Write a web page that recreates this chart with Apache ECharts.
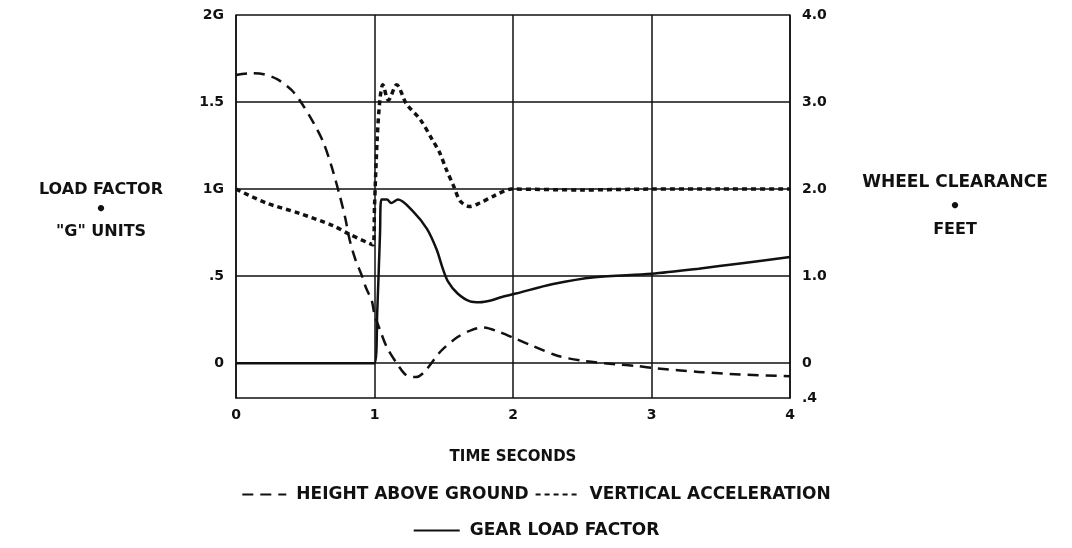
<!DOCTYPE html>
<html>
<head>
<meta charset="utf-8">
<script src="https://cdn.jsdelivr.net/npm/echarts@6/dist/echarts.min.js"></script>
<style>
html,body{margin:0;padding:0;background:#fff;}
#c{width:1072px;height:548px;}
</style>
</head>
<body>
<div id="c"></div>
<script>
// ---- data ----
var xTicks = [0, 1, 2, 3, 4];
var leftGridValues = [0, 0.5, 1, 1.5, 2];
var leftLabels = {"0": "0", "0.5": ".5", "1": "1G", "1.5": "1.5", "2": "2G"};
var rightLabels = {"-0.4": ".4", "0": "0", "1": "1.0", "2": "2.0", "3": "3.0", "4": "4.0"};

// Height above ground (feet, right axis)
var heightT = [0, 0.1, 0.2, 0.3, 0.4, 0.46, 0.56, 0.63, 0.69, 0.75, 0.79, 0.82, 0.86, 0.91, 0.94, 0.98, 1.0, 1.04, 1.09, 1.16, 1.23, 1.3, 1.36, 1.48, 1.6, 1.7, 1.78, 1.9, 2.02, 2.14, 2.32, 2.5, 2.74, 2.89, 3.04, 3.34, 3.64, 4.0];
var heightFt = [3.31, 3.33, 3.32, 3.26, 3.14, 3.02, 2.76, 2.54, 2.26, 1.92, 1.66, 1.42, 1.2, 1.0, 0.86, 0.72, 0.56, 0.38, 0.18, 0.0, -0.14, -0.16, -0.1, 0.14, 0.3, 0.38, 0.41, 0.36, 0.28, 0.2, 0.086, 0.028, -0.012, -0.032, -0.06, -0.1, -0.13, -0.15];

// Vertical acceleration (G, left axis)
var accelT = [0, 0.22, 0.46, 0.70, 0.82, 0.99, 1.0, 1.02, 1.04, 1.06, 1.10, 1.16, 1.23, 1.33, 1.42, 1.47, 1.52, 1.57, 1.62, 1.69, 1.76, 1.86, 1.99, 2.5, 3.0, 3.5, 4.0];
var accelG = [1.0, 0.92, 0.86, 0.79, 0.74, 0.68, 0.9, 1.3, 1.52, 1.6, 1.51, 1.6, 1.49, 1.40, 1.28, 1.21, 1.11, 1.02, 0.93, 0.90, 0.92, 0.96, 1.0, 0.995, 1.0, 1.0, 1.0];

// Gear load factor (G, left axis)
var gearT = [0, 0.5, 1.0, 1.02, 1.04, 1.05, 1.09, 1.12, 1.17, 1.28, 1.38, 1.45, 1.49, 1.53, 1.6, 1.69, 1.76, 1.84, 1.92, 2.02, 2.29, 2.59, 3.0, 3.34, 3.64, 4.0];
var gearG = [0, 0, 0, 0.3, 0.75, 0.94, 0.94, 0.92, 0.94, 0.87, 0.77, 0.65, 0.55, 0.47, 0.40, 0.355, 0.35, 0.36, 0.38, 0.40, 0.455, 0.494, 0.514, 0.543, 0.573, 0.61];

function zip(a, b) { return a.map(function (v, i) { return [v, b[i]]; }); }
function key(v) { return String(Math.round(v * 10) / 10); }

var FONT = 'DejaVu Sans';
var INK = '#111';

var chart = echarts.init(document.getElementById('c'));
chart.setOption({
  animation: false,
  backgroundColor: '#fff',
  grid: { left: 236, right: 282, top: 15, bottom: 150, containLabel: false },
  xAxis: {
    type: 'value', min: 0, max: 4, interval: 1,
    name: 'TIME SECONDS', nameLocation: 'middle', nameGap: 52,
    nameTextStyle: { color: INK, fontFamily: FONT, fontWeight: 'bold', fontSize: 15 },
    axisLine: { show: true, onZero: false, lineStyle: { color: INK, width: 1.5 } },
    axisTick: { show: false },
    axisLabel: { color: INK, fontFamily: FONT, fontWeight: 'bold', fontSize: 14, margin: 10,
      formatter: function (v) { return xTicks.indexOf(v) >= 0 ? String(v) : ''; } },
    splitLine: { show: true, lineStyle: { color: INK, width: 1.5 } }
  },
  yAxis: [
    {
      type: 'value', min: -0.2, max: 2, interval: 0.1, position: 'left',
      axisLine: { show: true, lineStyle: { color: INK, width: 1.5 } },
      axisTick: { show: false },
      splitLine: { show: false },
      axisLabel: { color: INK, fontFamily: FONT, fontWeight: 'bold', fontSize: 14, margin: 12, hideOverlap: false,
        formatter: function (v) { var k = key(v); return leftLabels.hasOwnProperty(k) ? leftLabels[k] : ''; } }
    },
    {
      type: 'value', min: -0.4, max: 4, interval: 0.2, position: 'right',
      axisLine: { show: true, lineStyle: { color: INK, width: 1.5 } },
      axisTick: { show: false },
      splitLine: { show: false },
      axisLabel: { color: INK, fontFamily: FONT, fontWeight: 'bold', fontSize: 14, margin: 12, hideOverlap: false,
        formatter: function (v) { var k = key(v); return rightLabels.hasOwnProperty(k) ? rightLabels[k] : ''; } }
    }
  ],
  legend: [
    {
      data: ['HEIGHT ABOVE GROUND', 'VERTICAL ACCELERATION'],
      top: 481, left: 'center', itemWidth: 44, itemHeight: 10, itemGap: 6,
      itemStyle: { opacity: 0 },
      textStyle: { color: INK, fontFamily: FONT, fontWeight: 'bold', fontSize: 17, padding: [0, 0, 0, 5] }
    },
    {
      data: ['GEAR LOAD FACTOR'],
      top: 517, left: 'center', itemWidth: 46, itemHeight: 10,
      itemStyle: { opacity: 0 },
      textStyle: { color: INK, fontFamily: FONT, fontWeight: 'bold', fontSize: 17, padding: [0, 0, 0, 5] }
    }
  ],
  graphic: [
    { type: 'text', x: 101, y: 190, style: { text: 'LOAD FACTOR', fill: INK, font: 'bold 16px "DejaVu Sans"', align: 'center', verticalAlign: 'middle' } },
    { type: 'text', x: 101, y: 210, style: { text: '•', fill: INK, font: 'bold 18px "DejaVu Sans"', align: 'center', verticalAlign: 'middle' } },
    { type: 'text', x: 101, y: 232, style: { text: '"G" UNITS', fill: INK, font: 'bold 16px "DejaVu Sans"', align: 'center', verticalAlign: 'middle' } },
    { type: 'text', x: 955, y: 183, style: { text: 'WHEEL CLEARANCE', fill: INK, font: 'bold 17px "DejaVu Sans"', align: 'center', verticalAlign: 'middle' } },
    { type: 'text', x: 955, y: 207, style: { text: '•', fill: INK, font: 'bold 18px "DejaVu Sans"', align: 'center', verticalAlign: 'middle' } },
    { type: 'text', x: 955, y: 230, style: { text: 'FEET', fill: INK, font: 'bold 16px "DejaVu Sans"', align: 'center', verticalAlign: 'middle' } }
  ],
  series: [
    {
      name: 'HEIGHT ABOVE GROUND', type: 'line', yAxisIndex: 1, symbol: 'none', smooth: 0.3,
      data: zip(heightT, heightFt),
      lineStyle: { color: INK, width: 2.5, type: [11, 7] }, itemStyle: { color: INK }
    },
    {
      name: 'VERTICAL ACCELERATION', type: 'line', yAxisIndex: 0, symbol: 'none', smooth: 0.3,
      data: zip(accelT, accelG),
      lineStyle: { color: INK, width: 3.5, type: [5, 4] }, itemStyle: { color: INK }
    },
    {
      name: 'GEAR LOAD FACTOR', type: 'line', yAxisIndex: 0, symbol: 'none', smooth: 0.3,
      data: zip(gearT, gearG),
      lineStyle: { color: INK, width: 2.5 }, itemStyle: { color: INK },
      markLine: {
        silent: true, symbol: 'none', label: { show: false },
        lineStyle: { color: INK, width: 1.5, type: 'solid' },
        data: leftGridValues.map(function (v) { return { yAxis: v }; })
      }
    }
  ]
});
</script>
</body>
</html>
